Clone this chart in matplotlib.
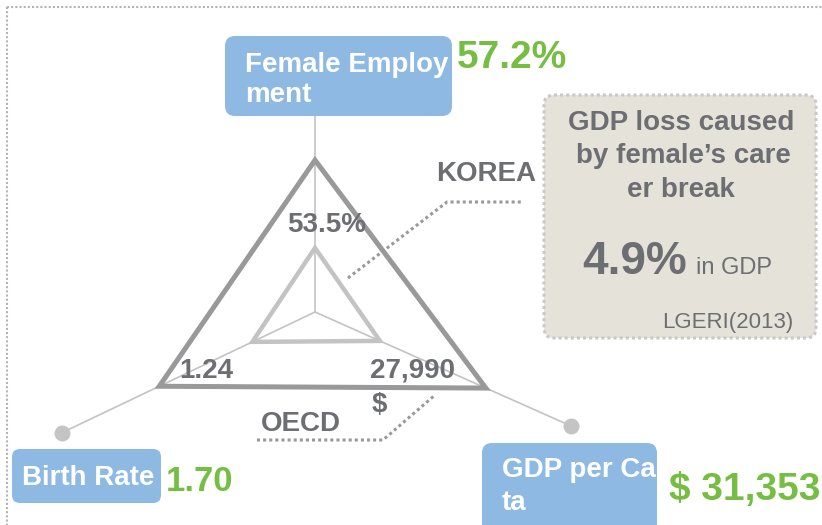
import numpy as np
import matplotlib
matplotlib.use('Agg')
import matplotlib.pyplot as plt
from matplotlib.patches import FancyBboxPatch, Polygon

plt.rcParams['font.family'] = ['Liberation Sans', 'DejaVu Sans']

# 数据
AXIS_NAMES = ['Female Employment', 'Birth Rate', 'GDP per Capita']
KOREA = [53.5, 1.24, 27990]
OECD = [57.2, 1.70, 31353]
AXIS_LO = [50.8, 0.93, 25930]
AXIS_HI = [62.6, 2.18, 34050]
KOREA_LABELS = ['53.5%', '1.24', '27,990']
OECD_LABELS = ['57.2%', '1.70', '$ 31,353']
GDP_LOSS = '4.9%'

# 颜色
GRAY_TXT = '#6d6e71'
GREEN = '#76be43'
BLUE = '#8db9e3'
BEIGE = '#e5e3d9'

# 雷达图布局 (像素坐标)
CX, CY, R = 315, 312, 280
ANGLES = np.radians([90, 205.5, -24])
SPOKE = [0.8, 1.0, 1.0]


def to_xy(vals):
    xs, ys = [], []
    for v, lo, hi, a in zip(vals, AXIS_LO, AXIS_HI, ANGLES):
        r = (v - lo) / (hi - lo) * R
        xs.append(CX + r * np.cos(a))
        ys.append(CY - r * np.sin(a))
    return np.column_stack([xs, ys])


def box(ax, x0, y0, x1, y1, rs, **kw):
    p = FancyBboxPatch((x0, y0), x1 - x0, y1 - y0,
                       boxstyle='round,pad=0,rounding_size=%d' % rs, **kw)
    ax.add_patch(p)
    return p


def main():
    fig = plt.figure(figsize=(8.22, 5.25), dpi=100)
    ax = fig.add_axes([0, 0, 1, 1])
    ax.set_xlim(0, 822)
    ax.set_ylim(525, 0)
    ax.axis('off')

    # 外框虚线
    ax.plot([7, 840], [7, 7], color='#b4b4b4', lw=1.5, ls=(0, (1, 1)))
    ax.plot([7, 7], [7, 540], color='#b4b4b4', lw=1.5, ls=(0, (1, 1)))

    # 轴线与端点
    for a, s in zip(ANGLES, SPOKE):
        ex, ey = CX + R * s * np.cos(a), CY - R * s * np.sin(a)
        ax.plot([CX, ex], [CY, ey], color='#c3c3c3', lw=1.2, zorder=1)
        ax.plot(ex, ey, 'o', ms=11.5, color='#c4c4c4', mec='none', zorder=1)

    # 三角形
    ax.add_patch(Polygon(to_xy(OECD), closed=True, fill=False, ec='#999999',
                         lw=3.6, joinstyle='miter', zorder=2))
    ax.add_patch(Polygon(to_xy(KOREA), closed=True, fill=False, ec='#c3c3c3',
                         lw=3.2, joinstyle='miter', zorder=2))

    # 韩国数值
    tk = dict(color=GRAY_TXT, fontsize=20, fontweight='bold', va='baseline', zorder=5)
    ax.text(287, 232, KOREA_LABELS[0], **tk)
    ax.text(179, 378, KOREA_LABELS[1], **tk)
    ax.text(370, 378, KOREA_LABELS[2], **tk)
    ax.text(372, 412, '$', **tk)
    ax.text(436, 181, 'KOREA', **tk)
    ax.text(261, 431, 'OECD', **tk)

    # 引线
    dot = dict(color='#999999', lw=2.2, ls=(0, (1, 1)), zorder=3)
    ax.plot([348, 447, 522], [278, 202, 202], **dot)
    ax.plot([257, 383, 435], [440, 440, 395], **dot)

    # 轴标签框
    tw = dict(color='white', fontsize=20, fontweight='bold', va='baseline', zorder=5)
    tg = dict(color=GREEN, fontweight='bold', va='baseline', zorder=5)

    box(ax, 225, 36, 452, 116, 10, fc=BLUE, ec='none', zorder=4)
    ax.text(245, 72, 'Female Employ', **tw)
    ax.text(245, 102, 'ment', **tw)
    ax.text(457, 68, OECD_LABELS[0], fontsize=28, **tg)

    box(ax, 12, 449, 161, 503, 8, fc=BLUE, ec='none', zorder=4)
    ax.text(22, 485, 'Birth Rate', **tw)
    ax.text(166, 491, OECD_LABELS[1], fontsize=25, **tg)

    bp = box(ax, 482, 443, 657, 545, 10, fc=BLUE, ec='none', zorder=4)
    t1 = ax.text(502, 477, 'GDP per Capi', **tw)
    t2 = ax.text(502, 510, 'ta', **tw)
    t1.set_clip_path(bp)
    t2.set_clip_path(bp)
    ax.text(669, 500, OECD_LABELS[2], fontsize=28, **tg)

    # GDP 损失框
    box(ax, 544, 95, 816, 338, 10, fc=BEIGE, ec='#c8c8c8', lw=2.2,
        ls=(0, (1, 1)), zorder=4)
    tb = dict(color=GRAY_TXT, fontsize=20, fontweight='bold', va='baseline',
              ha='center', zorder=5)
    ax.text(681, 130, 'GDP loss caused', **tb)
    ax.text(683, 163, 'by female\u2019s care', **tb)
    ax.text(681, 197, 'er break', **tb)
    ax.text(582, 274, GDP_LOSS, color=GRAY_TXT, fontsize=33, fontweight='bold',
            va='baseline', zorder=5)
    ax.text(696, 274, 'in GDP', color=GRAY_TXT, fontsize=17, va='baseline', zorder=5)
    ax.text(793, 328, 'LGERI(2013)', color=GRAY_TXT, fontsize=16, va='baseline',
            ha='right', zorder=5)

    fig.savefig('out.png', dpi=100)


if __name__ == '__main__':
    main()
